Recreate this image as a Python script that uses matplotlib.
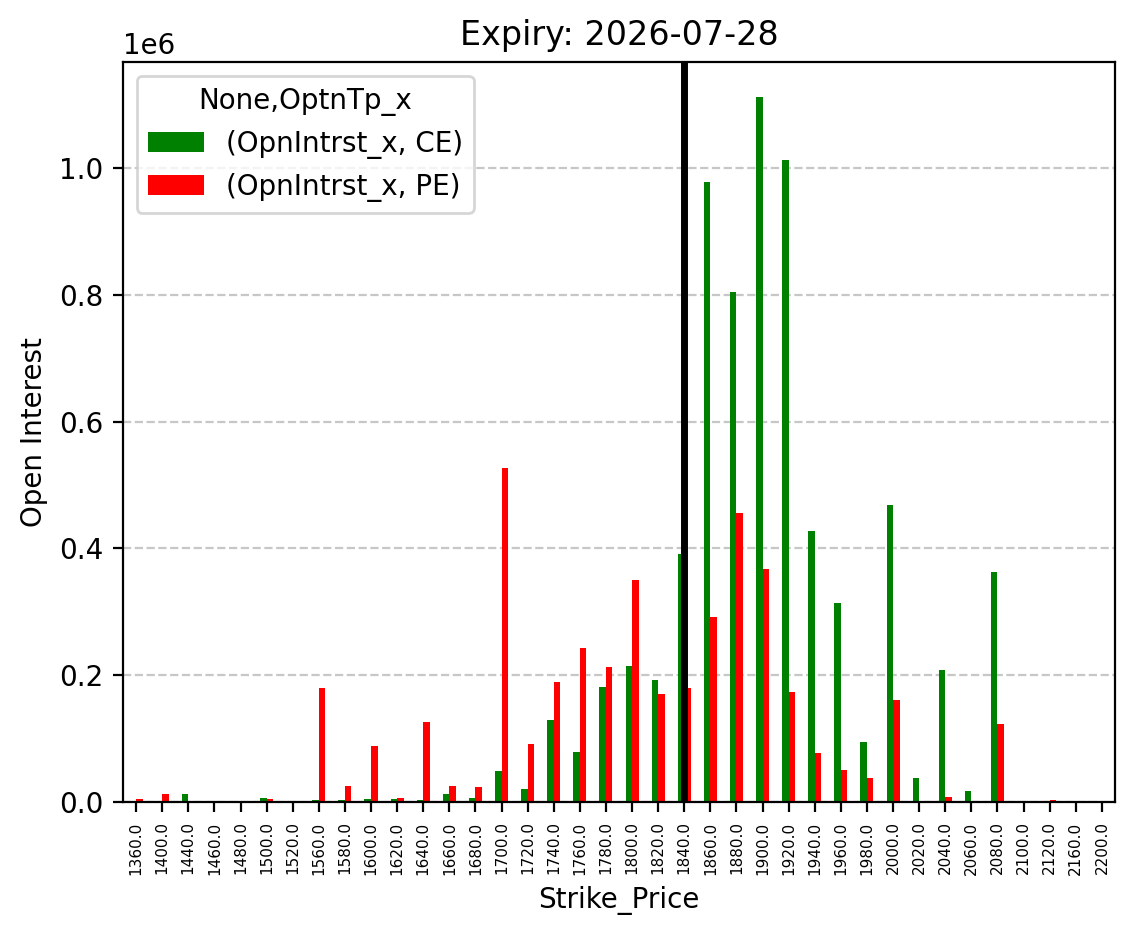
import numpy as np
import matplotlib
matplotlib.use("Agg")
import matplotlib.pyplot as plt

strikes = [1360, 1400, 1440, 1460, 1480, 1500, 1520, 1560, 1580, 1600,
           1620, 1640, 1660, 1680, 1700, 1720, 1740, 1760, 1780, 1800,
           1820, 1840, 1860, 1880, 1900, 1920, 1940, 1960, 1980, 2000,
           2020, 2040, 2060, 2080, 2100, 2120, 2160, 2200]
ce_oi = [0, 0, 13000, 0, 0, 7000, 0, 3000, 2500, 5000,
         5000, 3000, 13000, 7000, 49000, 20000, 129000, 79000, 181000, 215000,
         192000, 391000, 979000, 804000, 1112000, 1013000, 427000, 314000, 95000, 468000,
         38000, 208000, 17000, 363000, 0, 0, 0, 0]
pe_oi = [5000, 13000, 0, 0, 0, 5000, 0, 180000, 25000, 88000,
         6500, 126000, 25000, 24000, 527000, 91000, 189000, 243000, 213000, 350000,
         170000, 180000, 292000, 456000, 367000, 173000, 77000, 51000, 38000, 161000,
         0, 8000, 0, 123000, 0, 3000, 0, 0]
spot_strike = 1840
expiry = "2026-07-28"

x = np.arange(len(strikes))
w = 0.25

fig = plt.figure(figsize=(5.67, 4.695), dpi=200)
ax = fig.add_axes([0.1085, 0.1459, 0.8747, 0.7881])
ax.bar(x - w/2, ce_oi, w, color="green", label="(OpnIntrst_x, CE)")
ax.bar(x + w/2, pe_oi, w, color="red", label="(OpnIntrst_x, PE)")
ax.set_xlim(-0.5, len(strikes) - 0.5)
ax.set_xticks(x)
ax.set_xticklabels([f"{float(s)}" for s in strikes], rotation=90, fontsize=5.5)
ax.axvline(strikes.index(spot_strike), color="black", linewidth=2.5)
ax.grid(axis="y", linestyle="--", alpha=0.7)
ax.set_axisbelow(True)
ax.set_title(f"Expiry: {expiry}")
ax.set_xlabel("Strike_Price")
ax.set_ylabel("Open Interest")
ax.legend(title="None,OptnTp_x", loc="upper left")
fig.savefig("out.png", dpi=200)
